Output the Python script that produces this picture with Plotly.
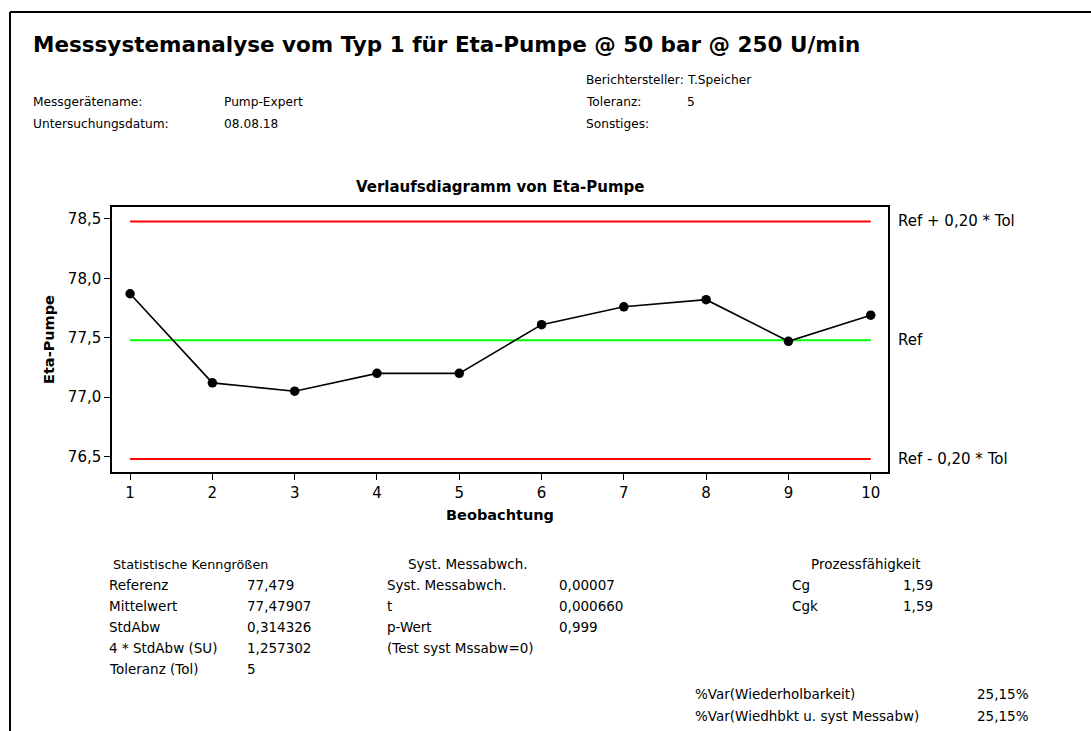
import plotly.graph_objects as go

W, H = 1091, 731

# Observations of Eta-Pumpe
observation = [1, 2, 3, 4, 5, 6, 7, 8, 9, 10]
eta_pumpe = [77.87, 77.12, 77.05, 77.20, 77.20, 77.61, 77.76, 77.82, 77.47, 77.69]

reference = 77.479
tolerance = 5
tol_fraction = 0.20

y_ticks = [76.5, 77.0, 77.5, 78.0, 78.5]

header_left = [("Messgerätename:", "Pump-Expert"), ("Untersuchungsdatum:", "08.08.18")]
header_right = [("Berichtersteller:", "T.Speicher"), ("Toleranz:", "5"), ("Sonstiges:", "")]

stat_labels = ["Referenz", "Mittelwert", "StdAbw", "4 * StdAbw (SU)", "Toleranz (Tol)"]
stat_values = ["77,479", "77,47907", "0,314326", "1,257302", "5"]

bias_labels = ["Syst. Messabwch.", "t", "p-Wert", "(Test syst Mssabw=0)"]
bias_values = ["0,00007", "0,000660", "0,999", ""]

cap_labels = ["Cg", "Cgk"]
cap_values = ["1,59", "1,59"]

var_labels = ["%Var(Wiederholbarkeit)", "%Var(Wiedhbkt u. syst Messabw)"]
var_values = ["25,15%", "25,15%"]

FONT = "DejaVu Sans"
HEAD = 12.2
BODY = 13.5
TICK = 15


def px(x):
    return x / W


def py(y):
    return 1 - y / H


upper = reference + tol_fraction * tolerance
lower = reference - tol_fraction * tolerance
x_span = [observation[0], observation[-1]]

fig = go.Figure()

fig.add_trace(go.Scatter(x=x_span, y=[upper, upper], mode="lines",
                         line=dict(color="#ff0000", width=2), hoverinfo="skip"))
fig.add_trace(go.Scatter(x=x_span, y=[lower, lower], mode="lines",
                         line=dict(color="#ff0000", width=2), hoverinfo="skip"))
fig.add_trace(go.Scatter(x=x_span, y=[reference, reference], mode="lines",
                         line=dict(color="#00ff00", width=2), hoverinfo="skip"))
fig.add_trace(go.Scatter(x=observation, y=eta_pumpe, mode="lines+markers",
                         line=dict(color="black", width=1.6),
                         marker=dict(color="black", size=9.5)))

ann = []


def text(x, y, s, size=BODY, bold=False, anchor="left"):
    ann.append(dict(x=px(x), y=py(y), xref="paper", yref="paper", text=f"<b>{s}</b>" if bold else s,
                    showarrow=False, xanchor=anchor, yanchor="middle",
                    font=dict(family=FONT, size=size, color="black")))


# Report header
text(31, 44, "Messsystemanalyse vom Typ 1 für Eta-Pumpe @ 50 bar @ 250 U/min", size=21.5, bold=True)
for i, (lab, val) in enumerate(header_left):
    text(31, 102 + 22 * i, lab, size=HEAD)
    text(222, 102 + 22 * i, val, size=HEAD)
for i, (lab, val) in enumerate(header_right):
    text(584, 80 + 22 * i, lab, size=HEAD)
    if val:
        text(685, 80 + 22 * i, val, size=HEAD)

text(500, 187, "Verlaufsdiagramm von Eta-Pumpe", size=15, bold=True, anchor="center")

# Limit labels to the right of the plot
for yv, s in [(upper, "Ref + 0,20 * Tol"), (reference, "Ref"), (lower, "Ref - 0,20 * Tol")]:
    ann.append(dict(x=px(896), y=yv, xref="paper", yref="y", text=s, showarrow=False,
                    xanchor="left", yanchor="middle", font=dict(family=FONT, size=TICK, color="black")))

# Statistics tables
row_y = [585, 606, 627, 648, 669]
text(190, 564, "Statistische Kenngrößen", size=12.8, anchor="center")
for i, (lab, val) in enumerate(zip(stat_labels, stat_values)):
    text(107, row_y[i], lab)
    text(245, row_y[i], val)

text(468, 564, "Syst. Messabwch.", anchor="center")
for i, (lab, val) in enumerate(zip(bias_labels, bias_values)):
    text(385, row_y[i], lab)
    if val:
        text(557, row_y[i], val)

text(865, 564, "Prozessfähigkeit", anchor="center")
for i, (lab, val) in enumerate(zip(cap_labels, cap_values)):
    text(790, row_y[i], lab)
    text(901, row_y[i], val)

for i, (lab, val) in enumerate(zip(var_labels, var_values)):
    text(693, 694 + 22 * i, lab)
    text(975, 694 + 22 * i, val)

# Page frame (top and left edges)
shapes = [
    dict(type="line", xref="paper", yref="paper", x0=px(10), x1=1.0, y0=py(12), y1=py(12),
         line=dict(color="black", width=2)),
    dict(type="line", xref="paper", yref="paper", x0=px(10), x1=px(10), y0=py(12), y1=0,
         line=dict(color="black", width=2)),
]

fig.update_layout(
    width=W, height=H,
    margin=dict(l=0, r=0, t=0, b=0),
    paper_bgcolor="white", plot_bgcolor="white",
    showlegend=False,
    separators=",.",
    font=dict(family=FONT, size=BODY, color="black"),
    annotations=ann,
    shapes=shapes,
    xaxis=dict(domain=[px(112), px(888)], range=[0.78, 10.21],
               tickvals=observation, ticks="outside", ticklen=6, tickcolor="black",
               showgrid=False, zeroline=False, showline=True, linecolor="black", linewidth=1.5,
               mirror=True, tickfont=dict(family=FONT, size=TICK),
               title=dict(text="<b>Beobachtung</b>", font=dict(family=FONT, size=14.5), standoff=9)),
    yaxis=dict(domain=[py(472), py(207)], range=[76.37, 78.6],
               tickvals=y_ticks, tickformat=".1f", ticks="outside", ticklen=6, tickcolor="black",
               showgrid=False, zeroline=False, showline=True, linecolor="black", linewidth=1.5,
               mirror=True, tickfont=dict(family=FONT, size=TICK),
               title=dict(text="<b>Eta-Pumpe</b>", font=dict(family=FONT, size=14.5), standoff=10)),
)

fig.write_html("out.html")
